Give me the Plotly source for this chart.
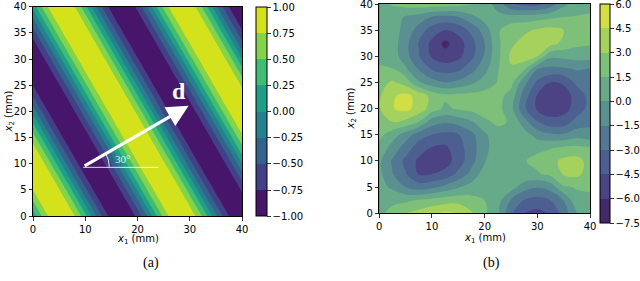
import math
import plotly.graph_objects as go

# ---------------- panel (a): wave field ----------------
a_x_nodes = [-3.233, -1.309, 0.616, 2.540, 4.465, 6.390, 8.314, 10.239, 12.163, 14.088,
             16.012, 17.937, 19.861, 21.786, 23.710, 25.635, 27.559, 29.484, 31.408,
             33.333, 35.257, 37.182, 39.106, 41.031]
a_y_nodes = [-3.333, 0.0, 3.333, 6.667, 10.0, 13.333, 16.667, 20.0, 23.333, 26.667,
             30.0, 33.333, 36.667, 40.0, 43.333]
a_rows = [
    [-0.966, -0.707, -0.259, 0.259, 0.707, 0.966, 0.966, 0.707, 0.259, -0.259, -0.707, -0.966,
     -0.966, -0.707, -0.259, 0.259, 0.707, 0.966, 0.966, 0.707, 0.259, -0.259, -0.707, -0.966],
    [-0.707, -0.259, 0.259, 0.707, 0.966, 0.966, 0.707, 0.259, -0.259, -0.707, -0.966, -0.966,
     -0.707, -0.259, 0.259, 0.707, 0.966, 0.966, 0.707, 0.259, -0.259, -0.707, -0.966, -0.966],
    [-0.259, 0.259, 0.707, 0.966, 0.966, 0.707, 0.259, -0.259, -0.707, -0.966, -0.966, -0.707,
     -0.259, 0.259, 0.707, 0.966, 0.966, 0.707, 0.259, -0.259, -0.707, -0.966, -0.966, -0.707],
    [0.259, 0.707, 0.966, 0.966, 0.707, 0.259, -0.259, -0.707, -0.966, -0.966, -0.707, -0.259,
     0.259, 0.707, 0.966, 0.966, 0.707, 0.259, -0.259, -0.707, -0.966, -0.966, -0.707, -0.259],
    [0.707, 0.966, 0.966, 0.707, 0.259, -0.259, -0.707, -0.966, -0.966, -0.707, -0.259, 0.259,
     0.707, 0.966, 0.966, 0.707, 0.259, -0.259, -0.707, -0.966, -0.966, -0.707, -0.259, 0.259],
    [0.966, 0.966, 0.707, 0.259, -0.259, -0.707, -0.966, -0.966, -0.707, -0.259, 0.259, 0.707,
     0.966, 0.966, 0.707, 0.259, -0.259, -0.707, -0.966, -0.966, -0.707, -0.259, 0.259, 0.707],
    [0.966, 0.707, 0.259, -0.259, -0.707, -0.966, -0.966, -0.707, -0.259, 0.259, 0.707, 0.966,
     0.966, 0.707, 0.259, -0.259, -0.707, -0.966, -0.966, -0.707, -0.259, 0.259, 0.707, 0.966],
    [0.707, 0.259, -0.259, -0.707, -0.966, -0.966, -0.707, -0.259, 0.259, 0.707, 0.966, 0.966,
     0.707, 0.259, -0.259, -0.707, -0.966, -0.966, -0.707, -0.259, 0.259, 0.707, 0.966, 0.966],
    [0.259, -0.259, -0.707, -0.966, -0.966, -0.707, -0.259, 0.259, 0.707, 0.966, 0.966, 0.707,
     0.259, -0.259, -0.707, -0.966, -0.966, -0.707, -0.259, 0.259, 0.707, 0.966, 0.966, 0.707],
    [-0.259, -0.707, -0.966, -0.966, -0.707, -0.259, 0.259, 0.707, 0.966, 0.966, 0.707, 0.259,
     -0.259, -0.707, -0.966, -0.966, -0.707, -0.259, 0.259, 0.707, 0.966, 0.966, 0.707, 0.259],
    [-0.707, -0.966, -0.966, -0.707, -0.259, 0.259, 0.707, 0.966, 0.966, 0.707, 0.259, -0.259,
     -0.707, -0.966, -0.966, -0.707, -0.259, 0.259, 0.707, 0.966, 0.966, 0.707, 0.259, -0.259],
    [-0.966, -0.966, -0.707, -0.259, 0.259, 0.707, 0.966, 0.966, 0.707, 0.259, -0.259, -0.707,
     -0.966, -0.966, -0.707, -0.259, 0.259, 0.707, 0.966, 0.966, 0.707, 0.259, -0.259, -0.707],
    [-0.966, -0.707, -0.259, 0.259, 0.707, 0.966, 0.966, 0.707, 0.259, -0.259, -0.707, -0.966,
     -0.966, -0.707, -0.259, 0.259, 0.707, 0.966, 0.966, 0.707, 0.259, -0.259, -0.707, -0.966],
    [-0.707, -0.259, 0.259, 0.707, 0.966, 0.966, 0.707, 0.259, -0.259, -0.707, -0.966, -0.966,
     -0.707, -0.259, 0.259, 0.707, 0.966, 0.966, 0.707, 0.259, -0.259, -0.707, -0.966, -0.966],
    [-0.259, 0.259, 0.707, 0.966, 0.966, 0.707, 0.259, -0.259, -0.707, -0.966, -0.966, -0.707,
     -0.259, 0.259, 0.707, 0.966, 0.966, 0.707, 0.259, -0.259, -0.707, -0.966, -0.966, -0.707],
]
a_levels = [-1.0, -0.75, -0.5, -0.25, 0.0, 0.25, 0.5, 0.75, 1.0]
a_level_labels = ["\u22121.00", "\u22120.75", "\u22120.50", "\u22120.25", "0.00",
                  "0.25", "0.50", "0.75", "1.00"]
a_band_colors = ["#47166a", "#424086", "#33628d", "#26818e",
                 "#1f9f88", "#40bd72", "#83d34b", "#d4e21c"]

# direction annotation of panel (a)
d_angle_deg = 30
d_start = (9.6, 9.4)
d_length = 23.3
ref_line_end_x = 24.0
arc_radius = 5.0

# ---------------- panel (b): field ----------------
b_x_nodes = [0, 2.5, 5, 7.5, 10, 12.5, 15, 17.5, 20, 22.5, 25, 27.5, 30, 32.5, 35, 37.5, 40]
b_y_nodes = [0, 2.5, 5, 7.5, 10, 12.5, 15, 17.5, 20, 22.5, 25, 27.5, 30, 32.5, 35, 37.5, 40]
b_rows = [
    [1.2, 1.9, 3.0, 3.6, 4.2, 4.8, 4.6, 3.2, 1.8, 0.2, -2.8, -4.55, -5.0, -4.3, -2.4, 0.0, 1.0],
    [0.9, 1.2, 1.2, 1.6, 2.0, 2.3, 2.4, 2.0, 1.5, 0.6, -1.6, -3.1, -3.5, -3.0, -1.45, 1.1, 1.2],
    [0.6, -0.3, -1.5, -2.2, -1.8, -1.0, -0.1, 0.6, 1.0, 1.1, 0.65, -0.8, -1.4, -0.9, 1.3, 1.6, 1.7],
    [0.4, -1.4, -2.9, -4.6, -4.5, -4.0, -2.6, -1.0, 0.8, 1.0, 1.1, 1.2, 1.3, 1.9, 3.1, 3.4, 2.3],
    [0.3, -1.7, -3.4, -4.8, -5.6, -5.2, -3.8, -2.0, -0.1, 0.9, 1.1, 1.4, 2.0, 2.5, 3.4, 3.6, 2.4],
    [1.1, -0.6, -2.2, -3.8, -4.6, -4.8, -3.6, -2.2, -0.4, 0.8, 1.0, 1.2, 1.1, 1.4, 1.8, 1.9, 1.7],
    [1.9, 0.7, -0.7, -2.3, -3.0, -3.4, -3.1, -1.9, -0.3, 1.1, 1.0, 0.7, -0.6, -1.2, -1.3, -0.7, -1.1],
    [2.3, 3.0, 2.6, 1.5, -0.8, -1.3, -0.9, -0.2, 1.3, 1.7, 1.4, -0.85, -2.9, -4.0, -3.8, -2.4, -1.8],
    [2.9, 4.4, 4.95, 3.9, 2.3, 1.2, 1.7, 2.0, 2.0, 2.0, 0.5, -2.7, -4.7, -5.3, -5.1, -3.8, -2.5],
    [2.8, 4.3, 4.9, 4.0, 2.5, 1.8, 1.9, 2.0, 2.1, 2.0, 1.0, -2.2, -4.6, -5.4, -5.2, -3.9, -2.5],
    [2.5, 3.2, 2.4, 0.2, -0.9, -1.45, -1.1, -0.3, 0.6, 1.6, 2.0, -1.0, -3.3, -4.5, -4.3, -2.6, -2.1],
    [1.6, 1.6, 0.3, -1.6, -3.05, -3.6, -3.3, -2.0, -0.45, 1.4, 2.8, 1.6, -1.5, -1.95, -1.8, -1.4, -1.6],
    [1.3, 0.8, -0.9, -2.9, -4.7, -5.4, -4.9, -3.4, -1.3, 1.1, 3.3, 3.9, 3.0, 0.3, 0.4, 0.6, 0.6],
    [1.2, 0.75, -1.0, -3.1, -4.9, -6.4, -5.2, -3.6, -1.5, 1.2, 2.7, 3.5, 3.9, 3.6, 2.6, 1.9, 1.7],
    [0.9, 0.6, -0.45, -2.2, -3.7, -4.5, -4.0, -2.6, -0.8, 1.3, 2.4, 2.7, 3.2, 3.5, 3.0, 2.2, 1.8],
    [1.0, 0.9, -0.2, -0.6, -1.6, -1.9, -1.6, -0.4, 0.6, 0.5, 0.6, 0.7, 0.9, 1.2, 1.5, 1.6, 1.7],
    [1.0, 1.6, 2.1, 2.3, 2.4, 2.3, 2.1, 1.6, 0.8, -0.7, -2.8, -3.5, -3.5, -2.4, -0.4, 0.7, 1.0],
]
b_levels = [-7.5, -6.0, -4.5, -3.0, -1.5, 0.0, 1.5, 3.0, 4.5, 6.0]
b_level_labels = ["\u22127.5", "\u22126.0", "\u22124.5", "\u22123.0", "\u22121.5",
                  "0.0", "1.5", "3.0", "4.5", "6.0"]
b_band_colors = ["#452867", "#4b4383", "#4d5e91", "#517792", "#5a9190",
                 "#66aa8a", "#7ebf79", "#a5d25c", "#d2df44"]

x_ticks = [0, 10, 20, 30, 40]
y_ticks = [0, 5, 10, 15, 20, 25, 30, 35, 40]

W, H = 640, 281


def contour_colorscale(colors):
    # plotly maps band k (of n) to position k/(n+1); make it piecewise constant
    ext = [colors[0]] + list(colors) + [colors[-1]]
    m = len(ext) - 1
    scale = []
    for k, c in enumerate(ext):
        scale.append([max(0.0, (k - 0.5) / m), c])
        scale.append([min(1.0, (k + 0.5) / m), c])
    return scale


def bar_colorscale(colors):
    n = len(colors)
    scale = []
    for k, c in enumerate(colors):
        scale.append([k / n, c])
        scale.append([(k + 1) / n, c])
    return scale


def cbar(x_px, top_px, bot_px, thick, vals, labels):
    return dict(
        x=x_px / W, xanchor="left", xpad=0, ypad=0,
        y=1 - (top_px + bot_px) / 2 / H, yanchor="middle",
        len=(bot_px - top_px) / H, lenmode="fraction",
        thickness=thick, thicknessmode="pixels",
        outlinewidth=1, outlinecolor="black",
        tickmode="array", tickvals=vals, ticktext=labels,
        ticks="outside", ticklen=3.5, tickwidth=0.8, tickcolor="black",
        ticklabeloverflow="allow",
        tickfont=dict(family="DejaVu Sans", size=10, color="black"),
    )


fig = go.Figure()

fig.add_trace(go.Contour(
    x=a_x_nodes, y=a_y_nodes, z=a_rows,
    autocontour=False,
    contours=dict(start=a_levels[0], end=a_levels[-1], size=0.25,
                  coloring="fill", showlines=False),
    line=dict(width=0, smoothing=0),
    colorscale=contour_colorscale(a_band_colors), showscale=False,
    hoverinfo="skip", xaxis="x", yaxis="y",
))
fig.add_trace(go.Scatter(
    x=[-100], y=[-100], mode="markers", hoverinfo="skip", xaxis="x", yaxis="y",
    marker=dict(size=1, color=[0], cmin=a_levels[0], cmax=a_levels[-1],
                colorscale=bar_colorscale(a_band_colors), showscale=True,
                colorbar=cbar(255.7, 7.3, 216.0, 11, a_levels, a_level_labels)),
))

fig.add_trace(go.Contour(
    x=b_x_nodes, y=b_y_nodes, z=b_rows,
    autocontour=False,
    contours=dict(start=b_levels[0], end=b_levels[-1], size=1.5,
                  coloring="fill", showlines=False),
    line=dict(width=0, smoothing=1.1),
    colorscale=contour_colorscale(b_band_colors), showscale=False,
    hoverinfo="skip", xaxis="x2", yaxis="y2",
))
fig.add_trace(go.Scatter(
    x=[-100], y=[-100], mode="markers", hoverinfo="skip", xaxis="x2", yaxis="y2",
    marker=dict(size=1, color=[0], cmin=b_levels[0], cmax=b_levels[-1],
                colorscale=bar_colorscale(b_band_colors), showscale=True,
                colorbar=cbar(600.0, 4.0, 223.0, 10, b_levels, b_level_labels)),
))

axis_common = dict(
    range=[0, 40], showgrid=False, zeroline=False,
    showline=True, mirror=True, linecolor="black", linewidth=1,
    ticks="outside", ticklen=3.5, tickwidth=0.8, tickcolor="black",
    tickfont=dict(family="DejaVu Sans", size=10, color="black"),
    ticklabeloverflow="allow", fixedrange=True,
)

fig.update_layout(
    width=W, height=H,
    margin=dict(l=0, r=0, t=0, b=0, autoexpand=False),
    paper_bgcolor="white", plot_bgcolor="white",
    showlegend=False,
    xaxis=dict(axis_common, domain=[33 / W, 242 / W], anchor="y",
               tickmode="array", tickvals=x_ticks),
    yaxis=dict(axis_common, domain=[(H - 216) / H, (H - 6.7) / H], anchor="x",
               tickmode="array", tickvals=y_ticks),
    xaxis2=dict(axis_common, domain=[379.3 / W, 590 / W], anchor="y2",
                tickmode="array", tickvals=x_ticks),
    yaxis2=dict(axis_common, domain=[(H - 213.3) / H, (H - 4) / H], anchor="x2",
                tickmode="array", tickvals=y_ticks),
)

# direction arrow d in panel (a)
ang = math.radians(d_angle_deg)
d_end = (d_start[0] + d_length * math.cos(ang), d_start[1] + d_length * math.sin(ang))
fig.add_shape(type="line", xref="x", yref="y",
              x0=d_start[0], y0=d_start[1] - 0.1, x1=ref_line_end_x, y1=d_start[1] - 0.1,
              line=dict(color="rgba(255,255,255,0.85)", width=1))
arc_p0 = (d_start[0] + arc_radius, d_start[1])
arc_c = (d_start[0] + arc_radius, d_start[1] + arc_radius * math.tan(ang / 2))
arc_p2 = (d_start[0] + arc_radius * math.cos(ang), d_start[1] + arc_radius * math.sin(ang))
fig.add_shape(type="path", xref="x", yref="y",
              path=f"M {arc_p0[0]} {arc_p0[1]} Q {arc_c[0]} {arc_c[1]} {arc_p2[0]} {arc_p2[1]}",
              line=dict(color="rgba(255,255,255,0.85)", width=1))
fig.add_annotation(x=d_end[0], y=d_end[1], ax=d_start[0], ay=d_start[1],
                   xref="x", yref="y", axref="x", ayref="y",
                   text="", showarrow=True, arrowhead=2, arrowsize=1.35,
                   arrowwidth=3.2, arrowcolor="white", standoff=0, startstandoff=0)
fig.add_annotation(x=28.0, y=23.8, xref="x", yref="y", text="<b>d</b>", showarrow=False,
                   xanchor="center", yanchor="middle",
                   font=dict(family="Liberation Serif", size=24, color="white"))
fig.add_annotation(x=17.2, y=10.9, xref="x", yref="y", text="30\u00b0", showarrow=False,
                   xanchor="center", yanchor="middle",
                   font=dict(family="Liberation Serif", size=11, color="rgba(255,255,255,0.85)"))

# axis titles and captions
lab_font = dict(family="DejaVu Sans", size=10, color="black")
common_ann = dict(xref="paper", yref="paper", showarrow=False,
                  xanchor="center", yanchor="middle")
fig.add_annotation(x=137.5 / W, y=1 - 239 / H, text="<i>x</i><sub>1</sub> (mm)",
                   font=lab_font, **common_ann)
fig.add_annotation(x=484.7 / W, y=1 - 238 / H, text="<i>x</i><sub>1</sub> (mm)",
                   font=lab_font, **common_ann)
fig.add_annotation(x=8.5 / W, y=1 - 112 / H, textangle=-90,
                   text="<i>x</i><sub>2</sub> (mm)", font=lab_font, **common_ann)
fig.add_annotation(x=351.5 / W, y=1 - 109 / H, textangle=-90,
                   text="<i>x</i><sub>2</sub> (mm)", font=lab_font, **common_ann)
cap_font = dict(family="Liberation Serif", size=14, color="black")
fig.add_annotation(x=150.8 / W, y=1 - 262.5 / H, text="(a)", font=cap_font, **common_ann)
fig.add_annotation(x=491.8 / W, y=1 - 262.5 / H, text="(b)", font=cap_font, **common_ann)

fig.write_html("out.html",
               config={"displayModeBar": False, "staticPlot": True},
               post_script="document.body.style.margin='0px';"
                           "document.body.style.overflow='hidden';")
